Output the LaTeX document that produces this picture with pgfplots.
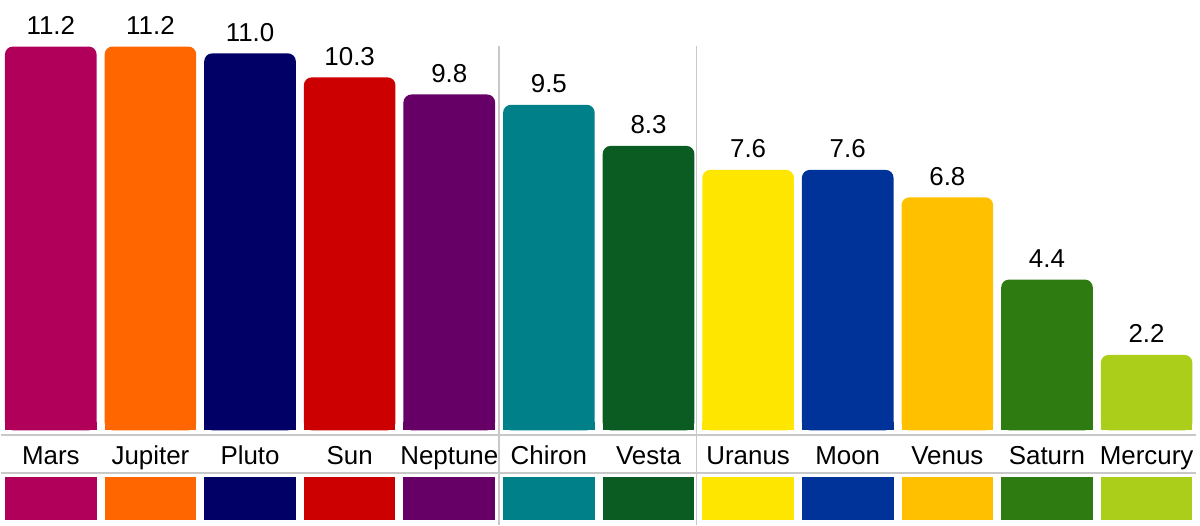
\documentclass[border=0pt]{standalone}
\usepackage{fontspec}
\setmainfont{Liberation Sans}
\usepackage{pgfplots}
\pgfplotsset{compat=1.18}

\definecolor{cMars}{RGB}{176,0,90}
\definecolor{cJupiter}{RGB}{255,102,0}
\definecolor{cPluto}{RGB}{0,0,102}
\definecolor{cSun}{RGB}{204,0,0}
\definecolor{cNeptune}{RGB}{102,0,102}
\definecolor{cChiron}{RGB}{0,128,136}
\definecolor{cVesta}{RGB}{10,92,35}
\definecolor{cUranus}{RGB}{255,230,0}
\definecolor{cMoon}{RGB}{0,51,153}
\definecolor{cVenus}{RGB}{255,192,0}
\definecolor{cSaturn}{RGB}{46,123,18}
\definecolor{cMercury}{RGB}{170,206,26}
\definecolor{sep}{RGB}{200,200,200}

% #1 centre, #2 value, #3 name, #4 colour, #5/#6 left/right edge
\newcommand\planet[6]{%
  \addplot[ybar, bar width=0.92, bar shift=0pt, fill=#4, draw=none,
    rounded corners=4pt, nodes near coords={#2},
    every node near coord/.append style={text=black, font=\fontsize{13}{15}\selectfont, yshift=2.5pt}]
    coordinates {(#1,#2)};
  \addplot[ybar, bar width=0.92, bar shift=0pt, fill=#4, draw=none]
    coordinates {(#1,0.25)};
  \addplot[fill=#4, draw=none]
    coordinates {(#5,-1.366) (#6,-1.366) (#6,-2.616) (#5,-2.616)} -- cycle;
  \node[font=\fontsize{13}{15}\selectfont, anchor=base] at (axis cs:#1,-0.99) {#3};
}

\begin{document}
\begin{tikzpicture}
\begin{axis}[
    scale only axis,
    width=600pt, height=263.5pt,
    xmin=0, xmax=12,
    ymin=-2.762, ymax=12.558,
    axis line style={draw=none},
    xtick=\empty, ytick=\empty,
    clip=false,
]
% separators
\addplot[sep, line width=1pt] coordinates {(0,-0.145) (12,-0.145)};
\addplot[sep, line width=1pt] coordinates {(0,-1.25) (12,-1.25)};
\addplot[sep, line width=0.6pt] coordinates {(5,11.22) (5,-2.762)};
\addplot[sep, line width=0.6pt] coordinates {(6.98,11.22) (6.98,-2.762)};

\planet{0.5}{11.2}{Mars}{cMars}{0.04}{0.96}
\planet{1.5}{11.2}{Jupiter}{cJupiter}{1.04}{1.96}
\planet{2.5}{11.0}{Pluto}{cPluto}{2.04}{2.96}
\planet{3.5}{10.3}{Sun}{cSun}{3.04}{3.96}
\planet{4.5}{9.8}{Neptune}{cNeptune}{4.04}{4.96}
\planet{5.5}{9.5}{Chiron}{cChiron}{5.04}{5.96}
\planet{6.5}{8.3}{Vesta}{cVesta}{6.04}{6.96}
\planet{7.5}{7.6}{Uranus}{cUranus}{7.04}{7.96}
\planet{8.5}{7.6}{Moon}{cMoon}{8.04}{8.96}
\planet{9.5}{6.8}{Venus}{cVenus}{9.04}{9.96}
\planet{10.5}{4.4}{Saturn}{cSaturn}{10.04}{10.96}
\planet{11.5}{2.2}{Mercury}{cMercury}{11.04}{11.96}
\end{axis}
\end{tikzpicture}
\end{document}
